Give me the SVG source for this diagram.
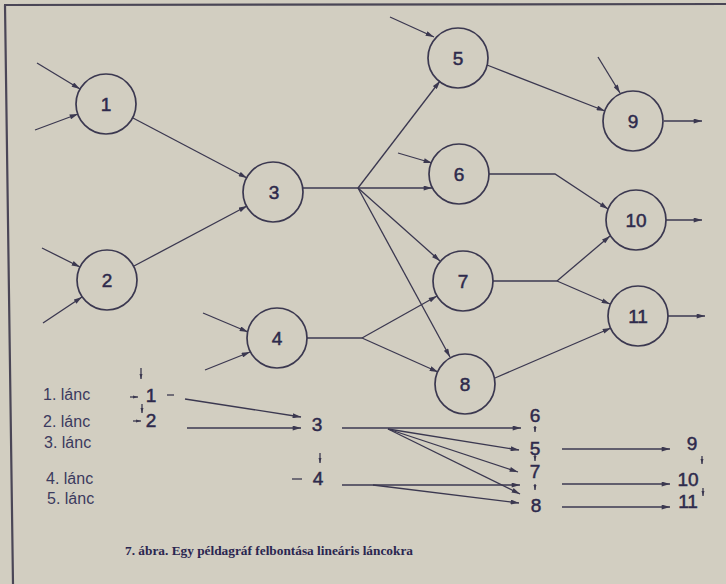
<svg xmlns="http://www.w3.org/2000/svg" width="726" height="584" viewBox="0 0 726 584">
<style>
.bg{fill:#d2cec1}
.frame{stroke:#4a4656;stroke-width:2.2;fill:none}
.n{fill:none;stroke:#3b3850;stroke-width:1.7}
.e{fill:none;stroke:#3b3850;stroke-width:1.3}
.t{font-family:"Liberation Sans",Arial,sans-serif;fill:#2e2a4c;text-anchor:middle}
.nl{font-size:19px;stroke:#2e2a4c;stroke-width:0.5}
.cl{font-size:16px;text-anchor:start;fill:#3b3a5e}
.cap{font-family:"Liberation Serif","Times New Roman",serif;font-weight:bold;font-size:12.5px;fill:#2a2650}
</style>
<defs>
<marker id="ah" viewBox="0 0 10 6" refX="10" refY="3" markerWidth="9" markerHeight="5" markerUnits="userSpaceOnUse" orient="auto"><path d="M0,0 L10,3 L0,6 z" fill="#3b3850"/></marker>
<marker id="as" viewBox="0 0 10 6" refX="10" refY="3" markerWidth="5" markerHeight="4" markerUnits="userSpaceOnUse" orient="auto"><path d="M0,0 L10,3 L0,6 z" fill="#3b3850"/></marker>
</defs>
<rect class="bg" x="0" y="0" width="726" height="584"/>
<path class="frame" d="M4,5 L726,4 M5,5 L13,584"/>

<g id="connectors">
<line class="e" x1="37" y1="63" x2="80" y2="89" marker-end="url(#ah)"/>
<line class="e" x1="35" y1="130" x2="78" y2="114" marker-end="url(#ah)"/>
<line class="e" x1="42" y1="248" x2="80" y2="267" marker-end="url(#ah)"/>
<line class="e" x1="43" y1="323" x2="82" y2="297" marker-end="url(#ah)"/>
<line class="e" x1="133" y1="118" x2="247" y2="178" marker-end="url(#ah)"/>
<line class="e" x1="134" y1="266" x2="247" y2="206" marker-end="url(#ah)"/>
<line class="e" x1="303" y1="188" x2="358" y2="188"/>
<line class="e" x1="358" y1="188" x2="440" y2="81" marker-end="url(#ah)"/>
<line class="e" x1="358" y1="188" x2="432" y2="188" marker-end="url(#ah)"/>
<line class="e" x1="358" y1="188" x2="440" y2="261" marker-end="url(#ah)"/>
<line class="e" x1="358" y1="188" x2="450" y2="357" marker-end="url(#ah)"/>
<line class="e" x1="390" y1="17" x2="434" y2="37" marker-end="url(#ah)"/>
<line class="e" x1="398" y1="153" x2="432" y2="163" marker-end="url(#ah)"/>
<line class="e" x1="203" y1="313" x2="248" y2="332" marker-end="url(#ah)"/>
<line class="e" x1="205" y1="370" x2="250" y2="352" marker-end="url(#ah)"/>
<line class="e" x1="307" y1="338" x2="362" y2="338"/>
<line class="e" x1="362" y1="338" x2="437" y2="296" marker-end="url(#ah)"/>
<line class="e" x1="362" y1="338" x2="438" y2="372" marker-end="url(#ah)"/>
<line class="e" x1="487" y1="65" x2="605" y2="111" marker-end="url(#ah)"/>
<line class="e" x1="598" y1="57" x2="620" y2="93" marker-end="url(#ah)"/>
<line class="e" x1="664" y1="121" x2="702" y2="121" marker-end="url(#ah)"/>
<polyline class="e" points="489,174 555,174 608,209" marker-end="url(#ah)"/>
<line class="e" x1="493" y1="281" x2="557" y2="281"/>
<line class="e" x1="557" y1="281" x2="610" y2="236" marker-end="url(#ah)"/>
<line class="e" x1="557" y1="281" x2="610" y2="304" marker-end="url(#ah)"/>
<line class="e" x1="495" y1="378" x2="611" y2="328" marker-end="url(#ah)"/>
<line class="e" x1="666" y1="220" x2="702" y2="220" marker-end="url(#ah)"/>
<line class="e" x1="668" y1="316" x2="705" y2="316" marker-end="url(#ah)"/>
<!-- lower chain diagram -->
<line class="e" x1="141" y1="368" x2="141" y2="379" marker-end="url(#as)"/>
<line class="e" x1="130" y1="397" x2="138" y2="397" marker-end="url(#as)"/>
<line class="e" x1="167" y1="395" x2="174" y2="395"/>
<line class="e" x1="142" y1="404" x2="142" y2="413" marker-end="url(#as)"/>
<line class="e" x1="133" y1="421" x2="141" y2="421" marker-end="url(#as)"/>
<line class="e" x1="185" y1="399" x2="301" y2="417" marker-end="url(#ah)"/>
<line class="e" x1="187" y1="428" x2="301" y2="428" marker-end="url(#ah)"/>
<line class="e" x1="320" y1="453" x2="320" y2="463" marker-end="url(#as)"/>
<line class="e" x1="292" y1="479" x2="302" y2="479"/>
<line class="e" x1="342" y1="428" x2="521" y2="428" marker-end="url(#ah)"/>
<line class="e" x1="388" y1="429" x2="519" y2="450" marker-end="url(#ah)"/>
<line class="e" x1="388" y1="429" x2="518" y2="472" marker-end="url(#ah)"/>
<line class="e" x1="388" y1="429" x2="520" y2="494" marker-end="url(#ah)"/>
<line class="e" x1="342" y1="485" x2="520" y2="485" marker-end="url(#ah)"/>
<line class="e" x1="373" y1="485" x2="519" y2="503" marker-end="url(#ah)"/>
<line class="e" x1="535" y1="426" x2="535" y2="432" marker-end="url(#as)"/>
<line class="e" x1="535" y1="455" x2="535" y2="461" marker-end="url(#as)"/>
<line class="e" x1="535" y1="484" x2="535" y2="490" marker-end="url(#as)"/>
<line class="e" x1="562" y1="449" x2="670" y2="449" marker-end="url(#ah)"/>
<line class="e" x1="562" y1="484" x2="670" y2="484" marker-end="url(#ah)"/>
<line class="e" x1="562" y1="507" x2="670" y2="507" marker-end="url(#ah)"/>
<line class="e" x1="702" y1="456" x2="702" y2="464" marker-end="url(#as)"/>
<line class="e" x1="703" y1="488" x2="703" y2="496" marker-end="url(#as)"/>
</g>

<g id="node1"><circle class="n" cx="106" cy="104" r="30"/><text class="t nl" x="106" y="111">1</text></g>
<g id="node2"><circle class="n" cx="107" cy="280" r="30"/><text class="t nl" x="107" y="287">2</text></g>
<g id="node3"><circle class="n" cx="273" cy="192" r="30"/><text class="t nl" x="274" y="199">3</text></g>
<g id="node4"><circle class="n" cx="277" cy="338" r="30"/><text class="t nl" x="277" y="345">4</text></g>
<g id="node5"><circle class="n" cx="458" cy="58" r="30"/><text class="t nl" x="458" y="65">5</text></g>
<g id="node6"><circle class="n" cx="459" cy="174" r="30"/><text class="t nl" x="459" y="181">6</text></g>
<g id="node7"><circle class="n" cx="463" cy="281" r="30"/><text class="t nl" x="463" y="288">7</text></g>
<g id="node8"><circle class="n" cx="465" cy="384" r="30"/><text class="t nl" x="465" y="391">8</text></g>
<g id="node9"><circle class="n" cx="633" cy="121" r="30"/><text class="t nl" x="633" y="128">9</text></g>
<g id="node10"><circle class="n" cx="636" cy="220" r="30"/><text class="t nl" x="636" y="227">10</text></g>
<g id="node11"><circle class="n" cx="638" cy="316" r="30"/><text class="t nl" x="638" y="323">11</text></g>

<g id="chain-labels">
<text class="t cl" x="43" y="400">1. lánc</text>
<text class="t cl" x="43" y="427">2. lánc</text>
<text class="t cl" x="44" y="448">3. lánc</text>
<text class="t cl" x="46" y="484">4. lánc</text>
<text class="t cl" x="47" y="504">5. lánc</text>
</g>
<g id="chain-nodes">
<text class="t nl" x="151" y="402">1</text>
<text class="t nl" x="151" y="427">2</text>
<text class="t nl" x="317" y="431">3</text>
<text class="t nl" x="318" y="485">4</text>
<text class="t nl" x="535" y="422">6</text>
<text class="t nl" x="535" y="455">5</text>
<text class="t nl" x="535" y="478">7</text>
<text class="t nl" x="536" y="512">8</text>
<text class="t nl" x="692" y="450">9</text>
<text class="t nl" x="688" y="486">10</text>
<text class="t nl" x="688" y="508">11</text>
</g>

<text class="cap" x="125" y="555" textLength="288" lengthAdjust="spacingAndGlyphs">7. ábra. Egy példagráf felbontása lineáris láncokra</text>
</svg>
